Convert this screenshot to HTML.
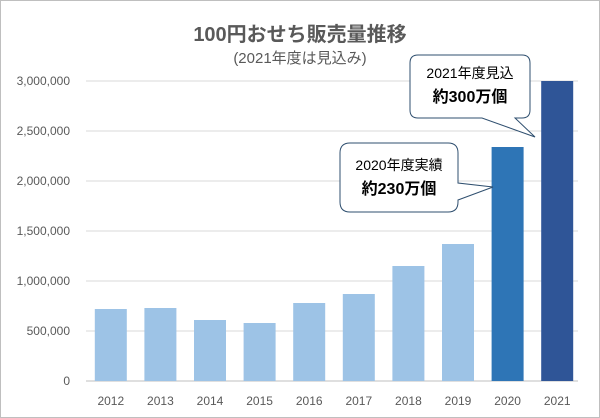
<!DOCTYPE html>
<html><head><meta charset="utf-8"><style>
html,body{margin:0;padding:0;background:#fff}
svg{display:block;font-family:"Liberation Sans","Noto Sans CJK JP",sans-serif}
</style></head><body>
<svg id="c" width="600" height="418" viewBox="0 0 600 418">
<rect x="0.5" y="0.5" width="599" height="417" fill="#fff" stroke="#bfbfbf"/>
<text x="300" y="41" text-anchor="middle" font-size="20" font-weight="bold" fill="#595959">100円おせち販売量推移</text>
<text x="300" y="63" text-anchor="middle" font-size="15" fill="#595959">(2021年度は見込み)</text>
<g id="grid"></g><g id="bars"></g><g id="xl"></g>
<g>
<path d="M418,55 H522 Q530,55 530,63 V110 Q530,118 522,118 H515 L535,137 L482,118 H418 Q410,118 410,110 V63 Q410,55 418,55 Z" fill="#fff" stroke="#2f4f6f" stroke-width="1"/>
<text x="470" y="78" text-anchor="middle" font-size="14" fill="#000">2021年度見込</text>
<text x="470" y="102" text-anchor="middle" font-size="16" font-weight="bold" fill="#000">約300万個</text>
</g>
<g>
<path d="M350,143 H448 Q458,143 458,153 V183 L493,187 L458,200 V202 Q458,212 448,212 H350 Q340,212 340,202 V153 Q340,143 350,143 Z" fill="#fff" stroke="#2f4f6f" stroke-width="1"/>
<text x="399" y="170" text-anchor="middle" font-size="14" fill="#000">2020年度実績</text>
<text x="399" y="194" text-anchor="middle" font-size="16" font-weight="bold" fill="#000">約230万個</text>
</g>
</svg>
<script>
const categories=["2012","2013","2014","2015","2016","2017","2018","2019","2020","2021"];
const sales=[720000,730000,610000,580000,780000,870000,1150000,1370000,2340000,3000000];
const barColors=["#9dc3e6","#9dc3e6","#9dc3e6","#9dc3e6","#9dc3e6","#9dc3e6","#9dc3e6","#9dc3e6","#2e75b6","#2f5597"];
const yTicks=[0,500000,1000000,1500000,2000000,2500000,3000000];
const NS="http://www.w3.org/2000/svg";
const x0=86,step=49.6,bw=32,yBase=381,yMax=3000000,ph=300;
const y=v=>yBase-v/yMax*ph;
const xc=i=>x0+step*(i+0.5);
function mk(t,a,p){const e=document.createElementNS(NS,t);for(const k in a)e.setAttribute(k,a[k]);p.appendChild(e);return e;}
const grid=document.getElementById('grid'),bars=document.getElementById('bars'),xl=document.getElementById('xl');
yTicks.forEach(v=>{
 const l=mk('line',{x1:x0,x2:578,y1:y(v),y2:y(v),stroke:v===0?'#bfbfbf':'#d9d9d9','stroke-width':1},grid);
 
 
 const t=mk('text',{x:70,y:y(v)+4,'text-anchor':'end','font-size':12,fill:'#595959'},grid);
 t.textContent=v.toLocaleString('en-US');
 
 
});
sales.forEach((v,i)=>{
 const r=mk('rect',{x:xc(i)-bw/2,y:y(v),width:bw,height:yBase-y(v),fill:barColors[i]},bars);
 
 
 const t=mk('text',{x:xc(i),y:405,'text-anchor':'middle','font-size':12,fill:'#595959'},xl);
 t.textContent=categories[i];
 
 
});
</script>
</body></html>
